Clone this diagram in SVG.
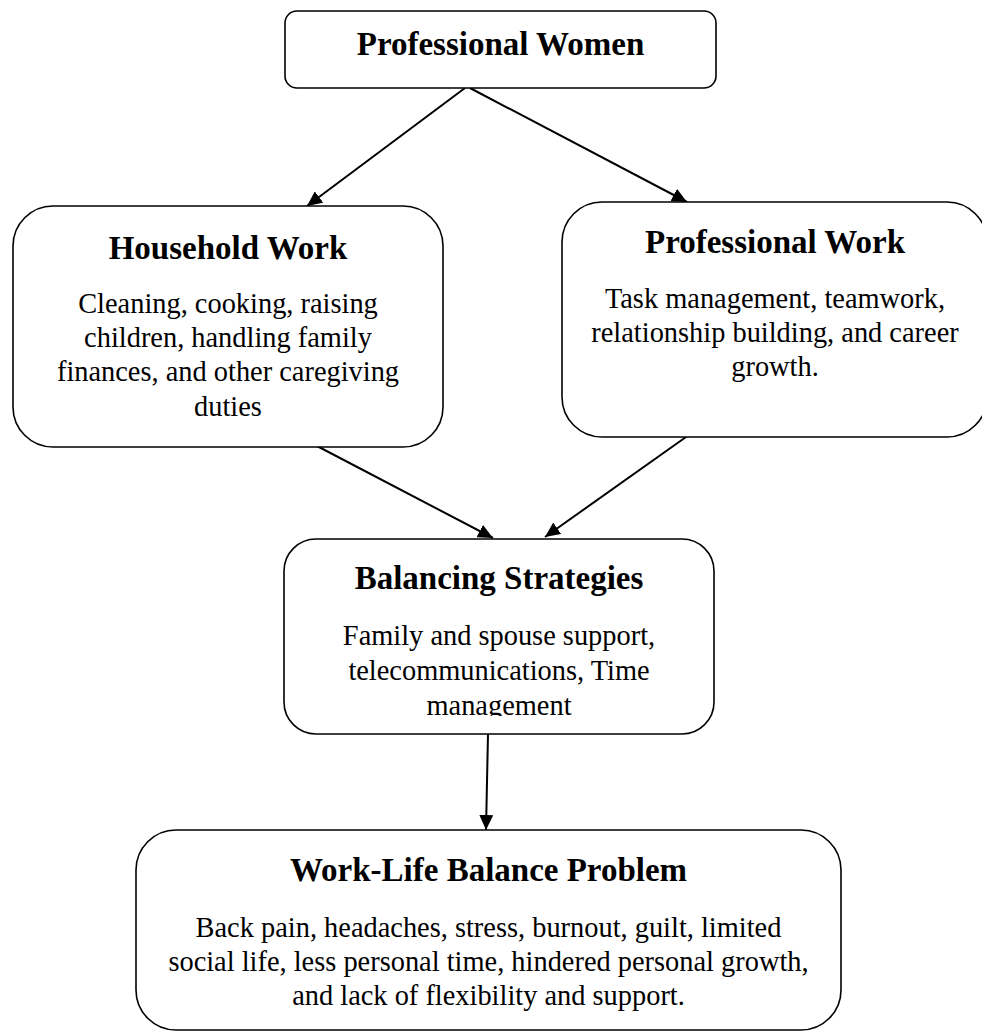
<svg xmlns="http://www.w3.org/2000/svg" width="982" height="1032" viewBox="0 0 982 1032">
<style>
.box{fill:#fff;stroke:#000;stroke-width:1.6}
.t{font-family:"Liberation Serif","Times New Roman",serif;font-weight:bold;font-size:33px;text-anchor:middle;fill:#000}
.b{font-family:"Liberation Serif","Times New Roman",serif;font-size:28.4px;text-anchor:middle;fill:#000}
.c{stroke:#000;stroke-width:2;fill:none;marker-end:url(#ah)}
</style>
<defs>
<marker id="ah" markerUnits="userSpaceOnUse" markerWidth="16" markerHeight="14" refX="15" refY="7" orient="auto">
<path d="M0,0 L15,7 L0,14 z" fill="#000"/>
</marker>
<clipPath id="clipBal"><rect x="284" y="539" width="430" height="177"/></clipPath>
</defs>
<rect width="982" height="1032" fill="#fff"/>
<g id="connectors">
<line class="c" x1="465" y1="88" x2="307" y2="206"/>
<line class="c" x1="470" y1="88" x2="687" y2="202"/>
<line class="c" x1="317" y1="446" x2="493" y2="538"/>
<line class="c" x1="686" y1="437" x2="545" y2="537"/>
<line class="c" x1="488" y1="734" x2="486" y2="830"/>
</g>
<g id="professional-women">
<rect class="box" x="285" y="11" width="431" height="77" rx="12"/>
<text class="t" x="500.5" y="55">Professional Women</text>
</g>
<g id="household-work">
<rect class="box" x="13" y="206" width="430" height="241" rx="40"/>
<text class="t" x="228" y="259">Household Work</text>
<text class="b" x="228" y="313">Cleaning, cooking, raising</text>
<text class="b" x="228" y="347">children, handling family</text>
<text class="b" x="228" y="381">finances, and other caregiving</text>
<text class="b" x="228" y="416">duties</text>
</g>
<g id="professional-work">
<rect class="box" x="562" y="202" width="425" height="235" rx="40"/>
<text class="t" x="775" y="253">Professional Work</text>
<text class="b" x="775" y="308">Task management, teamwork,</text>
<text class="b" x="775" y="342">relationship building, and career</text>
<text class="b" x="775" y="376">growth.</text>
</g>
<g id="balancing-strategies">
<rect class="box" x="284" y="539" width="430" height="195" rx="32"/>
<text class="t" x="499" y="589">Balancing Strategies</text>
<text class="b" x="499" y="645">Family and spouse support,</text>
<text class="b" x="499" y="680">telecommunications, Time</text>
<text class="b" x="499" y="715" clip-path="url(#clipBal)">management</text>
</g>
<g id="work-life-balance-problem">
<rect class="box" x="136" y="830" width="705" height="200" rx="40"/>
<text class="t" x="488.5" y="881">Work-Life Balance Problem</text>
<text class="b" x="488.5" y="937">Back pain, headaches, stress, burnout, guilt, limited</text>
<text class="b" x="488.5" y="971">social life, less personal time, hindered personal growth,</text>
<text class="b" x="488.5" y="1005">and lack of flexibility and support.</text>
</g>
</svg>
